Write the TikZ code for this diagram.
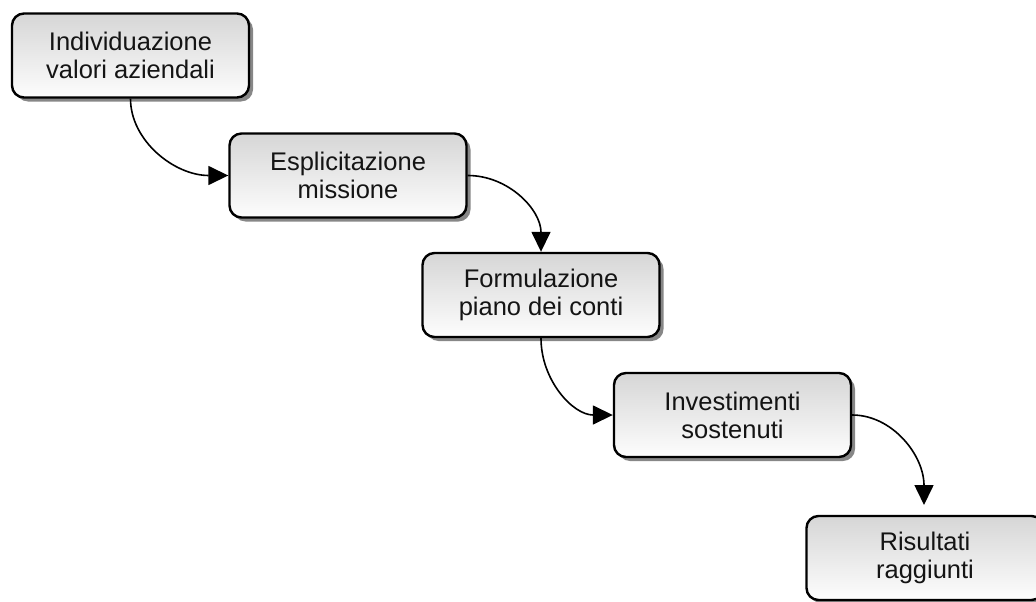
\documentclass[tikz,border=0pt]{standalone}
\usepackage{fontspec}
\setmainfont{Liberation Sans}
\usetikzlibrary{arrows.meta,shadows}
\definecolor{boxtop}{RGB}{214,214,214}
\definecolor{boxbottom}{RGB}{253,253,253}
\definecolor{shadowgray}{RGB}{135,135,135}
\definecolor{inktext}{RGB}{20,20,20}
\tikzset{
  stepbox/.style={
    draw=black, line width=2.4pt, rounded corners=12pt,
    top color=boxtop, bottom color=boxbottom,
    minimum width=237pt, minimum height=84pt, inner sep=0pt,
    align=center, text=inktext,
    font=\fontsize{25.5}{28}\selectfont,
    drop shadow={shadow xshift=4pt, shadow yshift=-4pt,
                 fill=shadowgray, opacity=1}
  },
  flow/.style={
    line width=1.6pt, draw=black,
    -{Triangle[length=20pt,width=19pt]}
  }
}
\begin{document}
\begin{tikzpicture}[x=1pt,y=-1pt]
  \path[use as bounding box, clip] (0,0) rectangle (1036,602);

  % process steps
  \node[stepbox] (s1) at (130.5,55.5) {Individuazione\\valori aziendali};
  \node[stepbox] (s2) at (348,175.5)  {Esplicitazione\\missione};
  \node[stepbox] (s3) at (541,295)    {Formulazione\\piano dei conti};
  \node[stepbox] (s4) at (732.5,415)  {Investimenti\\sostenuti};
  \node[stepbox] (s5) at (925,558)    {Risultati\\raggiunti};

  % the last arrow stops just above the final box
  \coordinate (s5in) at (924,505);

  % connectors
  \draw[flow] (s1.south) .. controls +(0,42) and +(-54,0) .. (s2.west);
  \draw[flow] (s2.east)  .. controls +(41,0) and +(0,-42) .. (s3.north);
  \draw[flow] (s3.south) .. controls +(0,42) and +(-40,0) .. (s4.west);
  \draw[flow] (s4.east)  .. controls +(40,0) and +(0,-50) .. (s5in);
\end{tikzpicture}
\end{document}
